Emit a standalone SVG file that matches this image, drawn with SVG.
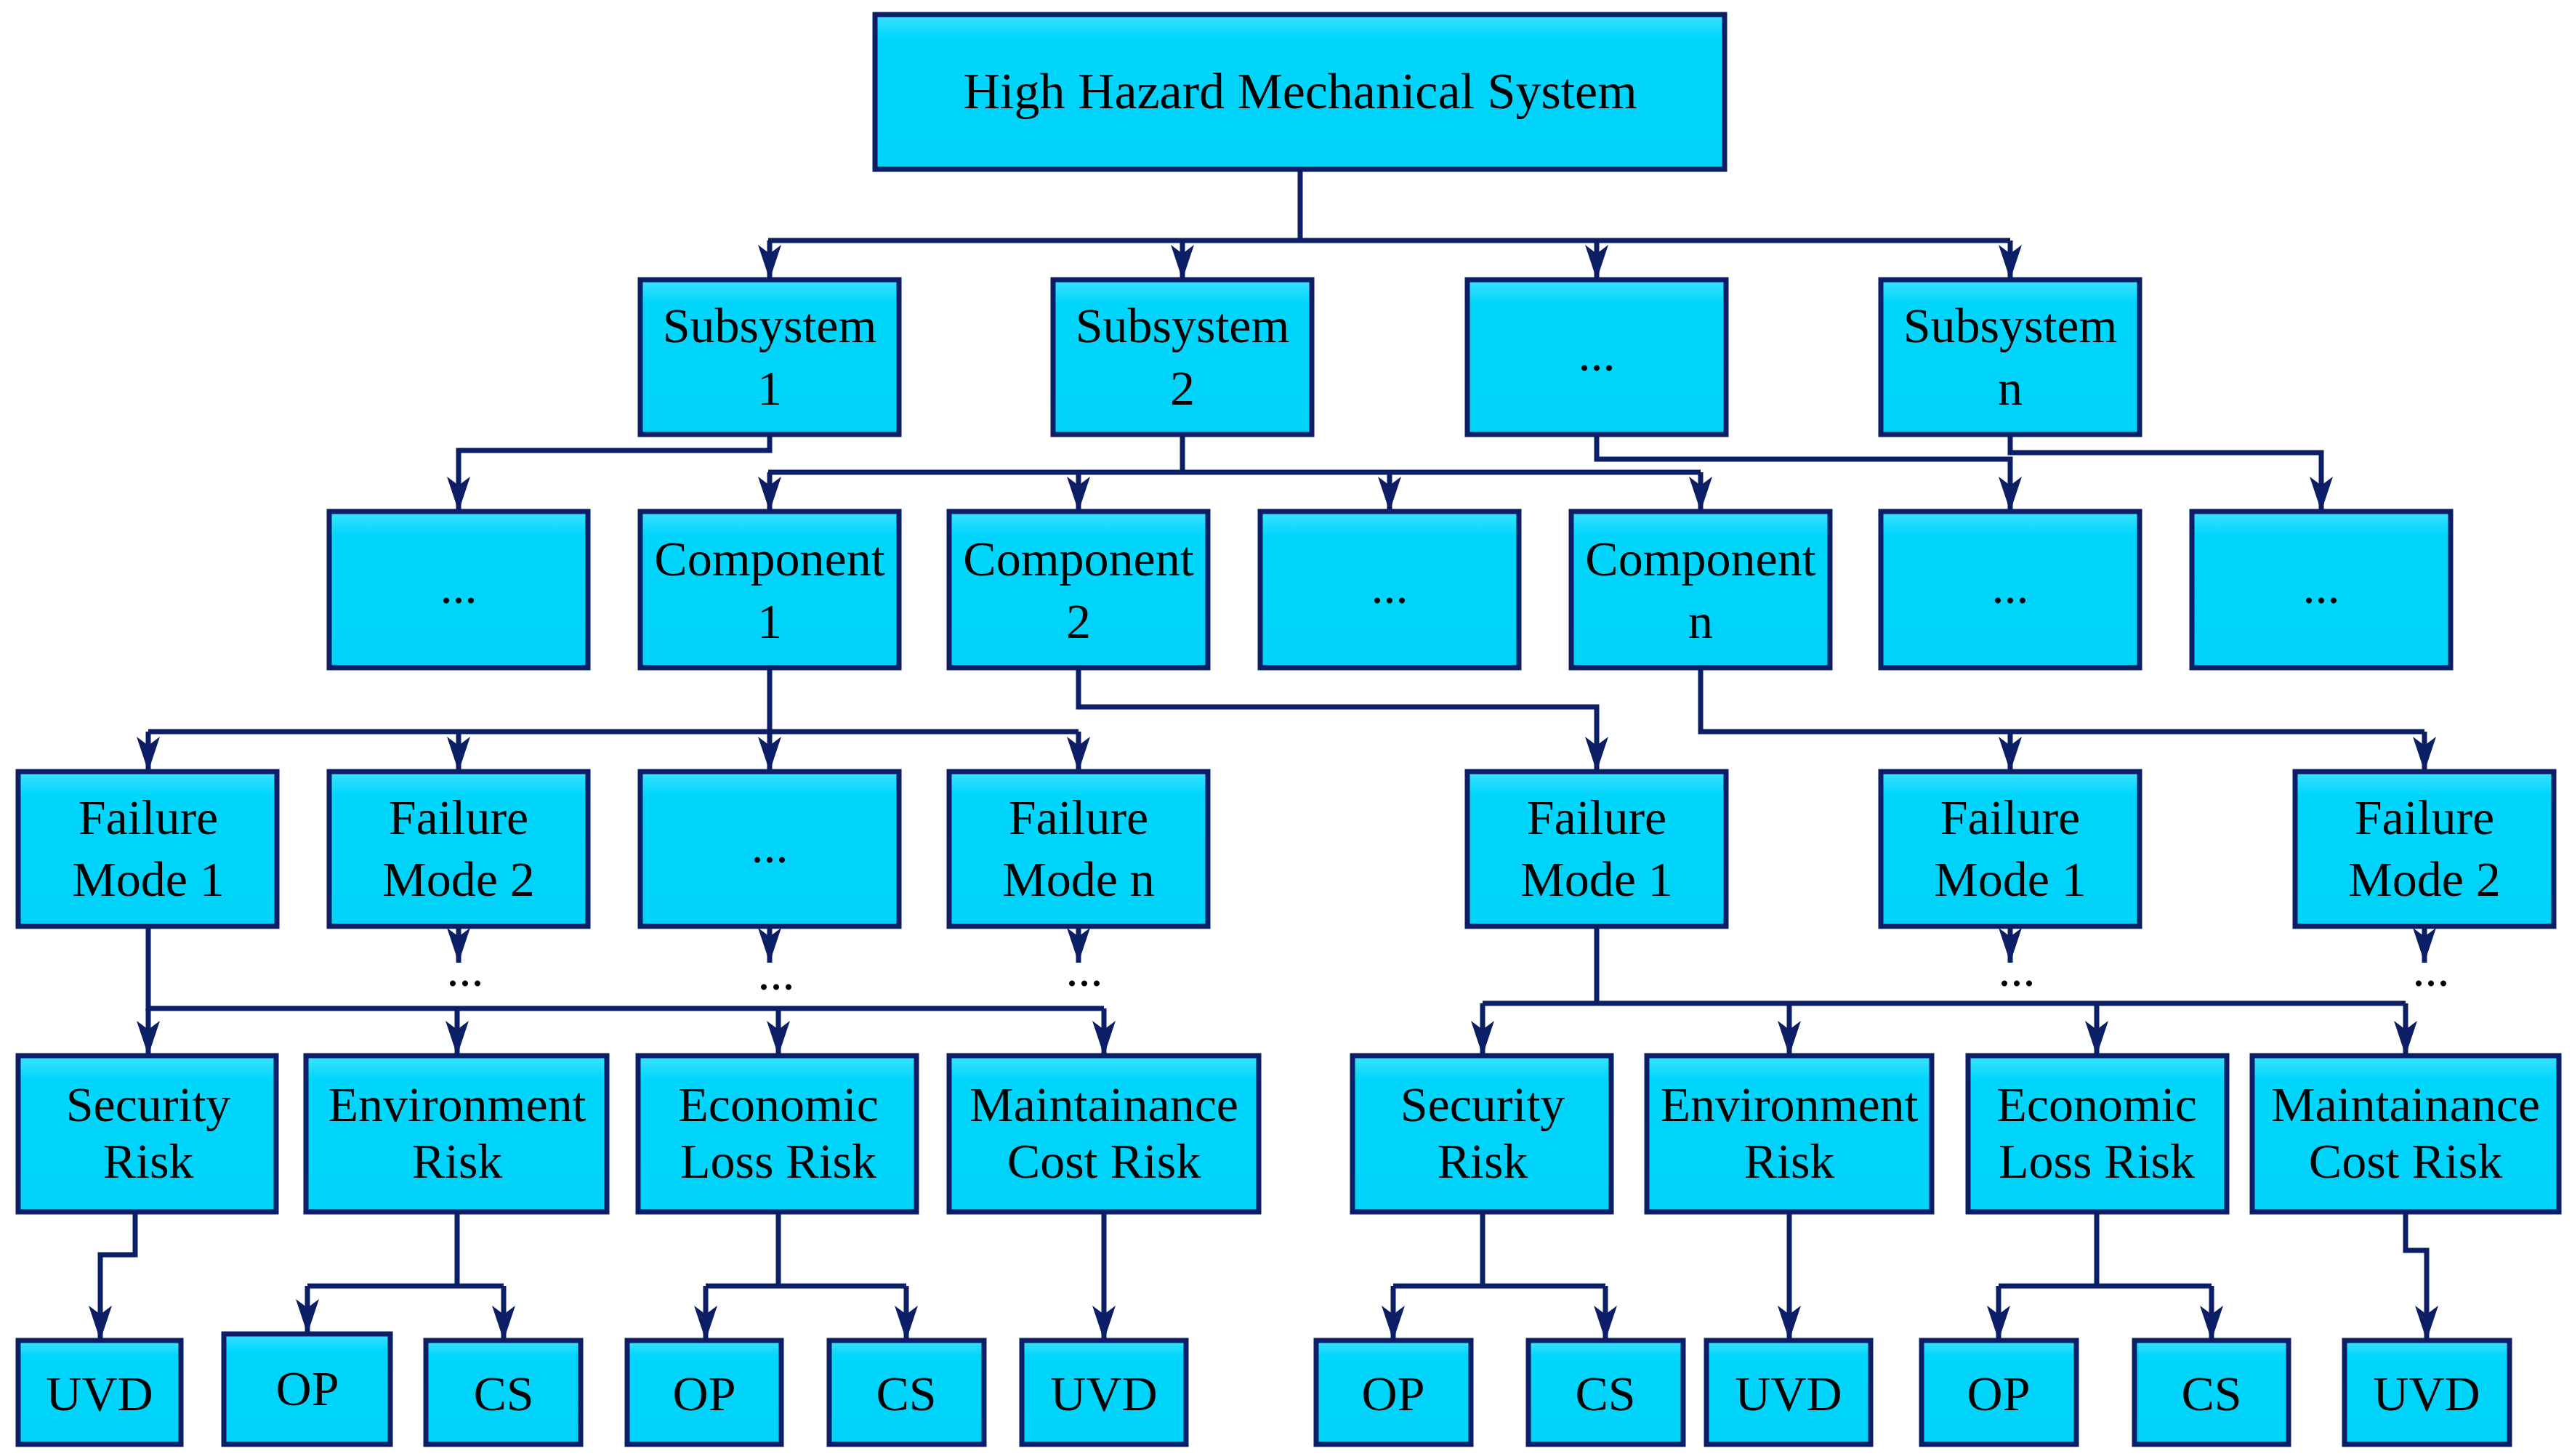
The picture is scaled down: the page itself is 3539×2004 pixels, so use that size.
<svg xmlns="http://www.w3.org/2000/svg" width="3539" height="2004" viewBox="0 0 3539 2004">
<defs>
<linearGradient id="g" x1="0" y1="0" x2="0" y2="1"><stop offset="0" stop-color="#3fe2ff"/><stop offset="0.15" stop-color="#00d6fc"/><stop offset="1" stop-color="#00d2f8"/></linearGradient>
<marker id="a" markerUnits="userSpaceOnUse" markerWidth="50" markerHeight="36" viewBox="0 0 50 36" refX="48" refY="18" orient="auto"><path d="M0,2 L48,18 L0,34 L12,18 Z" fill="#0b1e66"/></marker>
</defs>
<style>
rect{fill:url(#g);stroke:#0b1e66;stroke-width:7}
text{font-family:"Liberation Serif","Times New Roman",serif;font-size:68px;fill:#000;text-anchor:middle}
#c path{fill:none;stroke:#0b1e66;stroke-width:7}
.m{marker-end:url(#a)}
</style>
<rect width="3539" height="2004" style="fill:#fff;stroke:none"/>
<g id="c">
<path d="M1789,233 V331"/>
<path d="M1057,331 H2766"/>
<path class="m" d="M1059,331 V385"/><path class="m" d="M1627,331 V385"/><path class="m" d="M2197,331 V385"/><path class="m" d="M2766,331 V385"/>
<path class="m" d="M1059,598 V620 H631 V704"/>
<path d="M1627,598 V650"/><path d="M1057,650 H2340"/>
<path class="m" d="M1059,650 V704"/><path class="m" d="M1484,650 V704"/><path class="m" d="M1912,650 V704"/><path class="m" d="M2340,650 V704"/>
<path class="m" d="M2197,598 V632 H2766 V704"/>
<path class="m" d="M2766,598 V623 H3194 V704"/>
<path d="M1059,919 V1007"/><path d="M204,1007 H1484"/>
<path class="m" d="M204,1007 V1062"/><path class="m" d="M631,1007 V1062"/><path class="m" d="M1059,1007 V1062"/><path class="m" d="M1484,1007 V1062"/>
<path class="m" d="M1484,919 V973 H2197 V1062"/>
<path d="M2340,919 V1007 H3336"/><path class="m" d="M2766,1007 V1062"/><path class="m" d="M3336,1007 V1062"/>
<path class="m" d="M631,1275 V1325"/><path class="m" d="M1059,1275 V1325"/><path class="m" d="M1484,1275 V1325"/>
<path class="m" d="M2766,1275 V1325"/><path class="m" d="M3336,1275 V1325"/>
<path d="M204,1275 V1388 H1519"/>
<path class="m" d="M204,1388 V1453"/><path class="m" d="M629,1388 V1453"/><path class="m" d="M1071,1388 V1453"/><path class="m" d="M1519,1388 V1453"/>
<path d="M2197,1275 V1381 M2040,1381 H3310"/>
<path class="m" d="M2040,1381 V1453"/><path class="m" d="M2462,1381 V1453"/><path class="m" d="M2885,1381 V1453"/><path class="m" d="M3310,1381 V1453"/>
<path class="m" d="M186,1668 V1727 H138 V1845"/>
<path d="M629,1668 V1770 M423,1770 H693"/><path class="m" d="M423,1770 V1836"/><path class="m" d="M693,1770 V1845"/>
<path d="M1071,1668 V1770 M971,1770 H1247"/><path class="m" d="M971,1770 V1845"/><path class="m" d="M1247,1770 V1845"/>
<path class="m" d="M1519,1668 V1845"/>
<path d="M2040,1668 V1770 M1917,1770 H2209"/><path class="m" d="M1917,1770 V1845"/><path class="m" d="M2209,1770 V1845"/>
<path class="m" d="M2462,1668 V1845"/>
<path d="M2885,1668 V1770 M2750,1770 H3043"/><path class="m" d="M2750,1770 V1845"/><path class="m" d="M3043,1770 V1845"/>
<path class="m" d="M3310,1668 V1721 H3339 V1845"/>
</g>
<g id="dots">
<text x="640" y="1357">...</text><text x="1068" y="1362">...</text><text x="1492" y="1357">...</text>
<text x="2775" y="1357">...</text><text x="3345" y="1357">...</text>
</g>
<g id="top"><rect x="1204" y="20" width="1169" height="213"/><text x="1789" y="149" style="font-size:70px">High Hazard Mechanical System</text></g>
<g id="s1"><rect x="881" y="385" width="356" height="213"/><text x="1059" y="471">Subsystem</text><text x="1059" y="557">1</text></g>
<g id="s2"><rect x="1449" y="385" width="356" height="213"/><text x="1627" y="471">Subsystem</text><text x="1627" y="557">2</text></g>
<g id="s3"><rect x="2019" y="385" width="356" height="213"/><text x="2197" y="510">...</text></g>
<g id="sn"><rect x="2588" y="385" width="356" height="213"/><text x="2766" y="471">Subsystem</text><text x="2766" y="557">n</text></g>
<g id="c0"><rect x="453" y="704" width="356" height="215"/><text x="631" y="830">...</text></g>
<g id="c1"><rect x="881" y="704" width="356" height="215"/><text x="1059" y="792">Component</text><text x="1059" y="878">1</text></g>
<g id="c2"><rect x="1306" y="704" width="356" height="215"/><text x="1484" y="792">Component</text><text x="1484" y="878">2</text></g>
<g id="c3"><rect x="1734" y="704" width="356" height="215"/><text x="1912" y="830">...</text></g>
<g id="cn"><rect x="2162" y="704" width="356" height="215"/><text x="2340" y="792">Component</text><text x="2340" y="878">n</text></g>
<g id="c5"><rect x="2588" y="704" width="356" height="215"/><text x="2766" y="830">...</text></g>
<g id="c6"><rect x="3016" y="704" width="356" height="215"/><text x="3194" y="830">...</text></g>
<g id="f1"><rect x="25" y="1062" width="356" height="213"/><text x="204" y="1148">Failure</text><text x="204" y="1233">Mode 1</text></g>
<g id="f2"><rect x="453" y="1062" width="356" height="213"/><text x="631" y="1148">Failure</text><text x="631" y="1233">Mode 2</text></g>
<g id="f3"><rect x="881" y="1062" width="356" height="213"/><text x="1059" y="1187">...</text></g>
<g id="fn"><rect x="1306" y="1062" width="356" height="213"/><text x="1484" y="1148">Failure</text><text x="1484" y="1233">Mode n</text></g>
<g id="f21"><rect x="2019" y="1062" width="356" height="213"/><text x="2197" y="1148">Failure</text><text x="2197" y="1233">Mode 1</text></g>
<g id="f31"><rect x="2588" y="1062" width="356" height="213"/><text x="2766" y="1148">Failure</text><text x="2766" y="1233">Mode 1</text></g>
<g id="f32"><rect x="3158" y="1062" width="356" height="213"/><text x="3336" y="1148">Failure</text><text x="3336" y="1233">Mode 2</text></g>
<g id="r1"><rect x="25" y="1453" width="355" height="215"/><text x="204" y="1543">Security</text><text x="204" y="1621">Risk</text></g>
<g id="r2"><rect x="421" y="1453" width="414" height="215"/><text x="629" y="1543">Environment</text><text x="629" y="1621">Risk</text></g>
<g id="r3"><rect x="878" y="1453" width="383" height="215"/><text x="1071" y="1543">Economic</text><text x="1071" y="1621">Loss Risk</text></g>
<g id="r4"><rect x="1306" y="1453" width="426" height="215"/><text x="1519" y="1543">Maintainance</text><text x="1519" y="1621">Cost Risk</text></g>
<g id="r5"><rect x="1861" y="1453" width="356" height="215"/><text x="2040" y="1543">Security</text><text x="2040" y="1621">Risk</text></g>
<g id="r6"><rect x="2266" y="1453" width="392" height="215"/><text x="2462" y="1543">Environment</text><text x="2462" y="1621">Risk</text></g>
<g id="r7"><rect x="2708" y="1453" width="356" height="215"/><text x="2885" y="1543">Economic</text><text x="2885" y="1621">Loss Risk</text></g>
<g id="r8"><rect x="3099" y="1453" width="422" height="215"/><text x="3310" y="1543">Maintainance</text><text x="3310" y="1621">Cost Risk</text></g>
<g id="u1"><rect x="25" y="1845" width="224" height="143"/><text x="137" y="1941">UVD</text></g>
<g id="o1"><rect x="308" y="1836" width="229" height="152"/><text x="423" y="1934">OP</text></g>
<g id="k1"><rect x="586" y="1845" width="213" height="143"/><text x="693" y="1941">CS</text></g>
<g id="o2"><rect x="863" y="1845" width="212" height="143"/><text x="969" y="1941">OP</text></g>
<g id="k2"><rect x="1141" y="1845" width="213" height="143"/><text x="1247" y="1941">CS</text></g>
<g id="u2"><rect x="1406" y="1845" width="226" height="143"/><text x="1519" y="1941">UVD</text></g>
<g id="o3"><rect x="1811" y="1845" width="213" height="143"/><text x="1917" y="1941">OP</text></g>
<g id="k3"><rect x="2103" y="1845" width="213" height="143"/><text x="2209" y="1941">CS</text></g>
<g id="u3"><rect x="2348" y="1845" width="226" height="143"/><text x="2461" y="1941">UVD</text></g>
<g id="o4"><rect x="2644" y="1845" width="213" height="143"/><text x="2750" y="1941">OP</text></g>
<g id="k4"><rect x="2937" y="1845" width="212" height="143"/><text x="3043" y="1941">CS</text></g>
<g id="u4"><rect x="3226" y="1845" width="227" height="143"/><text x="3339" y="1941">UVD</text></g>
</svg>
